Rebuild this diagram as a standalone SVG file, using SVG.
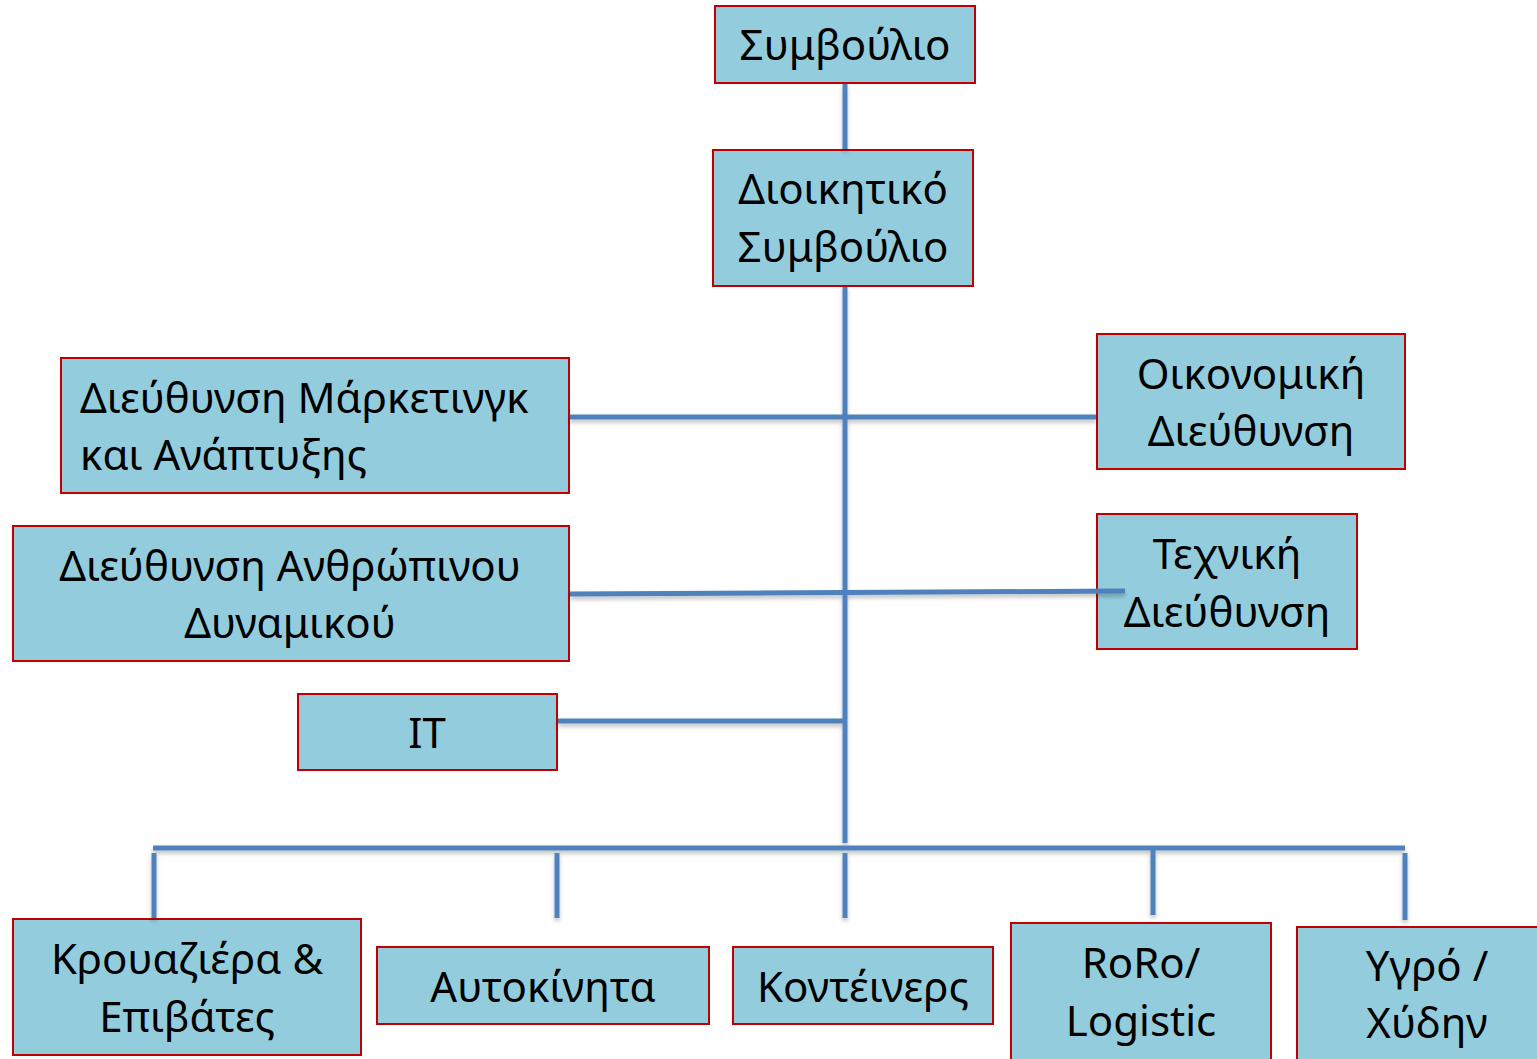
<svg xmlns="http://www.w3.org/2000/svg" width="1537" height="1059" viewBox="0 0 1537 1059">
<style>
.box{fill:#93CDDD;stroke:#C00000;stroke-width:2}
.t{font-family:"Noto Sans","Liberation Sans",sans-serif;font-size:42px;fill:#000;text-anchor:middle}
.l{text-anchor:start}
.c line{stroke:#4F81BD;stroke-width:5;fill:none}
</style>
<defs>
<filter id="sh" x="-5%" y="-50%" width="110%" height="200%">
<feDropShadow dx="0" dy="3" stdDeviation="2" flood-color="#000" flood-opacity="0.25"/>
</filter>
</defs>
<g id="n-symvoulio"><rect class="box" x="715" y="6" width="260" height="77"/><text class="t" x="845" y="60">Συμβούλιο</text></g>
<g id="n-dioikitiko"><rect class="box" x="713" y="150" width="260" height="136"/><text class="t" x="843" y="204">Διοικητικό</text><text class="t" x="843" y="262">Συμβούλιο</text></g>
<g id="n-marketing"><rect class="box" x="61" y="358" width="508" height="135"/><text class="t l" x="80" y="413">Διεύθυνση Μάρκετινγκ</text><text class="t l" x="80" y="470">και Ανάπτυξης</text></g>
<g id="n-oikonomiki"><rect class="box" x="1097" y="334" width="308" height="135"/><text class="t" x="1251" y="389">Οικονομική</text><text class="t" x="1251" y="446">Διεύθυνση</text></g>
<g id="n-anthropino"><rect class="box" x="13" y="526" width="556" height="135"/><text class="t" x="290" y="581">Διεύθυνση Ανθρώπινου</text><text class="t" x="290" y="638">Δυναμικού</text></g>
<g id="n-texniki"><rect class="box" x="1097" y="514" width="260" height="135"/><text class="t" x="1227" y="569">Τεχνική</text><text class="t" x="1227" y="627">Διεύθυνση</text></g>
<g id="n-it"><rect class="box" x="298" y="694" width="259" height="76"/><text class="t" x="427" y="748">IT</text></g>
<g id="n-krouaziera"><rect class="box" x="13" y="919" width="348" height="136"/><text class="t" x="187" y="974">Κρουαζιέρα &amp;</text><text class="t" x="187" y="1032">Επιβάτες</text></g>
<g id="n-aftokinita"><rect class="box" x="377" y="947" width="332" height="77"/><text class="t" x="543" y="1002">Αυτοκίνητα</text></g>
<g id="n-konteiners"><rect class="box" x="733" y="947" width="260" height="77"/><text class="t" x="863" y="1002">Κοντέινερς</text></g>
<g id="n-roro"><rect class="box" x="1011" y="923" width="260" height="140"/><text class="t" x="1141" y="978">RoRo/</text><text class="t" x="1141" y="1036">Logistic</text></g>
<g id="n-ygro"><rect class="box" x="1297" y="927" width="245" height="140"/><text class="t" x="1427" y="981">Υγρό /</text><text class="t" x="1427" y="1038">Χύδην</text></g>
<g id="connectors" class="c" filter="url(#sh)">
<line x1="845" y1="84" x2="845" y2="149"/>
<line x1="845" y1="287" x2="845" y2="843"/>
<line x1="570" y1="417" x2="1096" y2="417"/>
<line x1="570" y1="594" x2="1125" y2="591"/>
<line x1="558" y1="721" x2="845" y2="721"/>
<line x1="153" y1="848" x2="1405" y2="848"/>
<line x1="154" y1="853" x2="154" y2="918"/>
<line x1="557" y1="853" x2="557" y2="918"/>
<line x1="845" y1="853" x2="845" y2="918"/>
<line x1="1153" y1="850" x2="1153" y2="915"/>
<line x1="1405" y1="853" x2="1405" y2="920"/>
</g>
</svg>
